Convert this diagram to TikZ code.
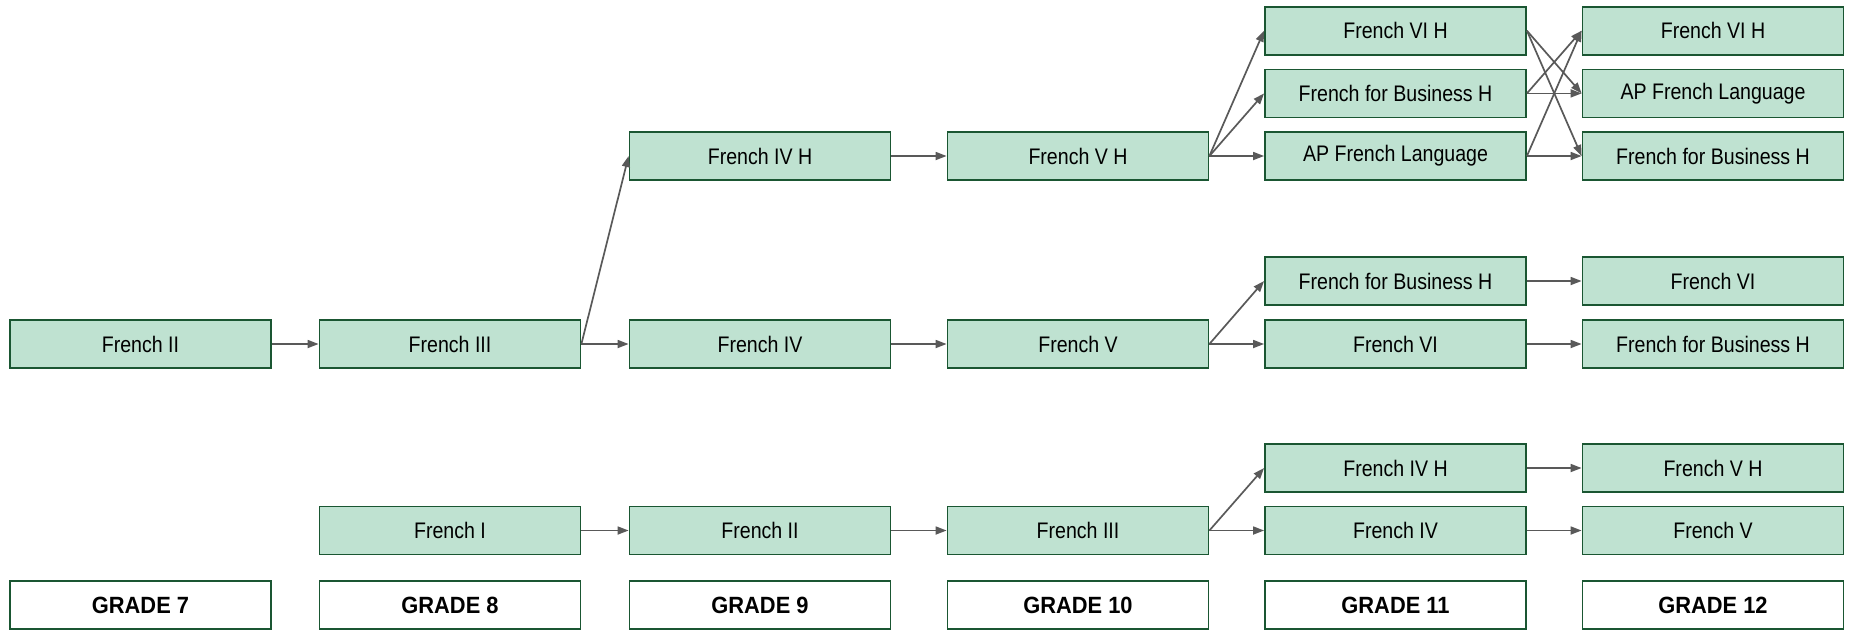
\documentclass[tikz,border=0pt]{standalone}
\usepackage{fontspec}
\setmainfont[FakeStretch=0.87]{Liberation Sans}
\newfontfamily\gradefont[FakeStretch=0.93]{Liberation Sans}
\usetikzlibrary{arrows.meta}
\definecolor{boxfill}{HTML}{BFE2D1}
\definecolor{boxline}{HTML}{1A5632}
\definecolor{linkgray}{HTML}{595959}
\tikzset{
	course/.style={draw=boxline, fill=boxfill, line width=1.8pt, minimum width=261pt, minimum height=48pt, inner sep=0pt, font=\fontsize{22.5}{26}\selectfont},
	grade/.style={course, fill=white, font=\gradefont\fontsize{23.5}{26}\selectfont\bfseries},
	link/.style={draw=linkgray, line width=1.7pt, -{Triangle[length=11pt,width=8pt]}}
}

\begin{document}
\begin{tikzpicture}[x=1pt, y=-1pt]
		%%%%% START %%%%%
		\useasboundingbox (0, 0) rectangle (1853, 630);
		
		% grade 7
		\node[course] (frII7) at (140.5, 344) {French II};
		
		% grade 8
		\node[course] (frIII8) at (450, 344) {French III};
		\node[course] (frI8) at (450, 530.5) {French I};
		
		% grade 9
		\node[course] (frIVH9) at (760, 156) {French IV H};
		\node[course] (frIV9) at (760, 344) {French IV};
		\node[course] (frII9) at (760, 530.5) {French II};
		
		% grade 10
		\node[course] (frVH10) at (1078, 156) {French V H};
		\node[course] (frV10) at (1078, 344) {French V};
		\node[course] (frIII10) at (1078, 530.5) {French III};
		
		% grade 11
		\node[course] (frVIH11) at (1395.5, 30.7) {French VI H};
		\node[course] (bizH11) at (1395.5, 93.4) {French for Business H};
		\node[course] (ap11) at (1395.5, 156) {AP French Language};
		\node[course] (bizH11b) at (1395.5, 281) {French for Business H};
		\node[course] (frVI11) at (1395.5, 344) {French VI};
		\node[course] (frIVH11) at (1395.5, 468) {French IV H};
		\node[course] (frIV11) at (1395.5, 530.5) {French IV};
		
		% grade 12
		\node[course] (frVIH12) at (1713, 30.7) {French VI H};
		\node[course] (ap12) at (1713, 93.4) {AP French Language};
		\node[course] (bizH12) at (1713, 156) {French for Business H};
		\node[course] (frVI12) at (1713, 281) {French VI};
		\node[course] (bizH12b) at (1713, 344) {French for Business H};
		\node[course] (frVH12) at (1713, 468) {French V H};
		\node[course] (frV12) at (1713, 530.5) {French V};
		
		% grade labels
		\node[grade] (grade7) at (140.5, 605) {GRADE 7};
		\node[grade] (grade8) at (450, 605) {GRADE 8};
		\node[grade] (grade9) at (760, 605) {GRADE 9};
		\node[grade] (grade10) at (1078, 605) {GRADE 10};
		\node[grade] (grade11) at (1395.5, 605) {GRADE 11};
		\node[grade] (grade12) at (1713, 605) {GRADE 12};
		
		% middle track
		\draw[link] (frII7.east) -- (frIII8.west);
		\draw[link] (frIII8.east) -- (frIVH9.west);
		\draw[link] (frIII8.east) -- (frIV9.west);
		\draw[link] (frIVH9.east) -- (frVH10.west);
		\draw[link] (frIV9.east) -- (frV10.west);
		
		\draw[link] (frVH10.east) -- (frVIH11.west);
		\draw[link] (frVH10.east) -- (bizH11.west);
		\draw[link] (frVH10.east) -- (ap11.west);
		\draw[link] (frVIH11.east) -- (ap12.west);
		\draw[link] (frVIH11.east) -- (bizH12.west);
		\draw[link] (bizH11.east) -- (frVIH12.west);
		\draw[link] (bizH11.east) -- (ap12.west);
		\draw[link] (ap11.east) -- (frVIH12.west);
		\draw[link] (ap11.east) -- (bizH12.west);
		
		\draw[link] (frV10.east) -- (bizH11b.west);
		\draw[link] (frV10.east) -- (frVI11.west);
		\draw[link] (bizH11b.east) -- (frVI12.west);
		\draw[link] (frVI11.east) -- (bizH12b.west);
		
		% lower track
		\draw[link] (frI8.east) -- (frII9.west);
		\draw[link] (frII9.east) -- (frIII10.west);
		\draw[link] (frIII10.east) -- (frIVH11.west);
		\draw[link] (frIII10.east) -- (frIV11.west);
		\draw[link] (frIVH11.east) -- (frVH12.west);
		\draw[link] (frIV11.east) -- (frV12.west);
		
		%%%%% END %%%%%
	\end{tikzpicture}
\end{document}
